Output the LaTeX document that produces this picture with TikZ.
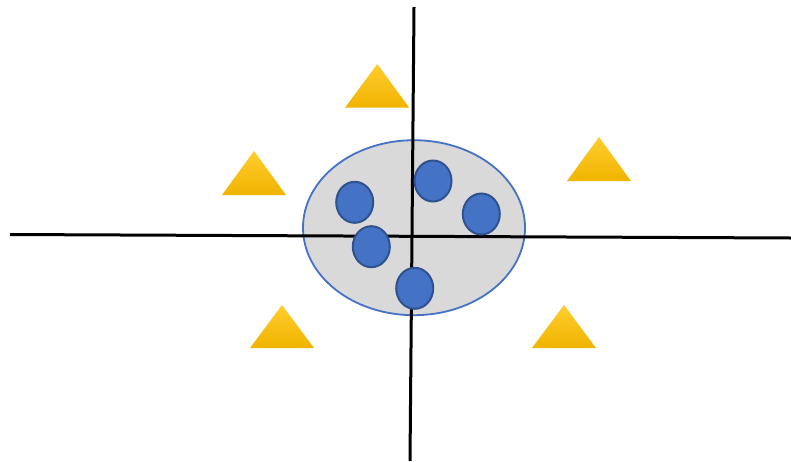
\documentclass[tikz,border=0pt]{standalone}
\usetikzlibrary{shapes.geometric}
\definecolor{gridline}{HTML}{D9D9D9}
\definecolor{accentblue}{HTML}{4472C4}
\definecolor{darkblue}{HTML}{2F528F}
\definecolor{goldtop}{HTML}{FFCD2E}
\definecolor{goldbot}{HTML}{F0B400}
\tikzset{
  axisline/.style={line width=3pt, black},
  blob/.style={ellipse, draw=darkblue, line width=2pt, fill=accentblue, minimum width=37pt, minimum height=41pt, inner sep=0pt},
  tri/.style={top color=goldtop, bottom color=goldbot, draw=none},
}
\begin{document}
\begin{tikzpicture}[x=1pt,y=-1pt]
\useasboundingbox (0,0) rectangle (791,461);
% cluster ellipse
\node[ellipse, draw=accentblue, line width=1.8pt, fill=gridline, minimum width=222pt, minimum height=175pt, inner sep=0pt] (cluster) at (414,227.7) {};
% axes
\coordinate (xl) at (10,234.5);
\coordinate (xr) at (791,238);
\coordinate (yt) at (414,7);
\coordinate (yb) at (410,461);
\draw[axisline] (xl) -- (xr);
\draw[axisline] (yt) -- (yb);
% points in cluster
\node[blob] (p1) at (354.7,202.3) {};
\node[blob] (p2) at (433,181) {};
\node[blob] (p3) at (481.3,214) {};
\node[blob] (p4) at (371.3,246.7) {};
\node[blob] (p5) at (414.7,288.3) {};
% triangles
\shade[tri] (377.3,64) -- (409.3,107.7) -- (345,107.7) -- cycle;
\shade[tri] (254,151) -- (286,195) -- (222,195) -- cycle;
\shade[tri] (599,137) -- (631,181) -- (567,181) -- cycle;
\shade[tri] (282,305) -- (314,348) -- (250,348) -- cycle;
\shade[tri] (564,305) -- (596,348) -- (532,348) -- cycle;
\end{tikzpicture}
\end{document}
